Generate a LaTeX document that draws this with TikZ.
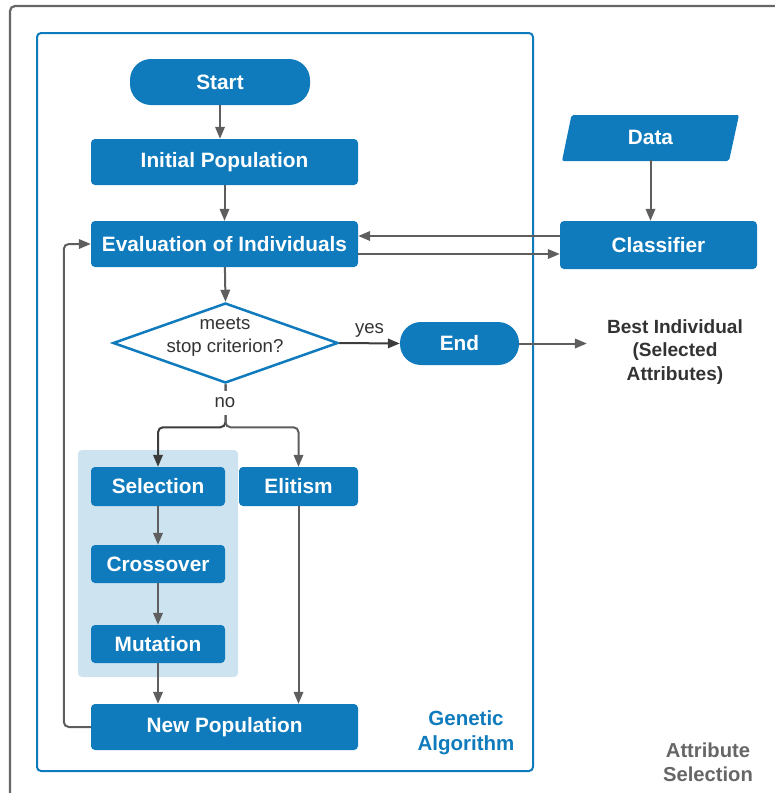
\documentclass[tikz,border=0pt]{standalone}
\usepackage{fontspec}
\setmainfont{Liberation Sans}
\usetikzlibrary{arrows.meta,shapes.geometric}
\definecolor{gablue}{RGB}{16,123,188}
\definecolor{lightregion}{RGB}{205,227,239}
\definecolor{outergray}{RGB}{102,102,102}
\definecolor{arrowgray}{RGB}{94,94,94}
\definecolor{darkline}{RGB}{60,60,60}
\definecolor{darktext}{RGB}{51,51,51}
\begin{document}
\begin{tikzpicture}[x=1pt,y=-1pt,
  box/.style={fill=gablue, text=white, rounded corners=4pt, inner sep=0pt,
    font=\fontsize{20.8}{24}\selectfont\bfseries},
  term/.style={box, rounded corners=21pt},
  flow/.style={draw=arrowgray, line width=2pt, -{Triangle[length=12pt,width=9.5pt]}},
  plain/.style={text=darktext, font=\fontsize{18.6}{23.5}\selectfont, inner sep=0pt},
]
\useasboundingbox (0,0) rectangle (775,793);
% outer frame and genetic algorithm frame
\draw[outergray, line width=2.2pt, rounded corners=5pt] (10,6) rectangle (810,830);
\draw[gablue, line width=2pt, rounded corners=4pt] (37,33) rectangle (533,771);
% shaded reproduction region
\fill[lightregion, rounded corners=4pt] (78,450) rectangle (238,677);

% main flow nodes
\node[term, minimum width=180pt, minimum height=46pt] (start) at (220,82) {Start};
\node[box, minimum width=267pt, minimum height=46pt] (init) at (224.5,162) {Initial Population};
\node[box, minimum width=267pt, minimum height=46pt] (eval) at (224.5,244) {Evaluation of Individuals};
\node[diamond, draw=gablue, line width=2.5pt, fill=white, minimum width=225pt,
      minimum height=80pt, inner sep=0pt] (dec) at (225.5,343) {};
\node[plain, align=center] (dectext) at (225,337) {meets\\stop criterion?};
\node[term, minimum width=119pt, minimum height=43pt] (end) at (459.5,343.5) {End};
\node[text=darktext, font=\fontsize{19.1}{23.5}\selectfont\bfseries, align=center,
      inner ysep=0pt, inner xsep=20pt] (best) at (675,352) {Best Individual\\(Selected\\Attributes)};

% data source and classifier
\fill[gablue, rounded corners=2pt] (571.5,115) -- (739,115) -- (729,161) -- (562,161) -- cycle;
\node[minimum width=170pt, minimum height=46pt, inner sep=0pt, text=white,
      font=\fontsize{20.8}{24}\selectfont\bfseries] (data) at (650.5,137) {Data};
\node[box, minimum width=197pt, minimum height=48pt] (clf) at (658.5,245) {Classifier};

% operators
\node[box, minimum width=134pt, minimum height=39pt] (sel) at (158,486.5) {Selection};
\node[box, minimum width=119pt, minimum height=39pt] (eli) at (298.5,486.5) {Elitism};
\node[box, minimum width=134pt, minimum height=38pt] (cross) at (158,564) {Crossover};
\node[box, minimum width=134pt, minimum height=38pt] (mut) at (158,644) {Mutation};
\node[box, minimum width=267pt, minimum height=46pt] (newpop) at (224.5,727) {New Population};

% frame titles
\node[text=gablue, font=\fontsize{20.5}{25}\selectfont\bfseries, align=center] (ga) at (466,733) {Genetic\\Algorithm};
\node[text=outergray, font=\fontsize{20.2}{24}\selectfont\bfseries, align=center] (as) at (708,762) {Attribute\\Selection};

% connectors
\draw[flow] (start.south) -- (start.south |- init.north);
\draw[flow] (init) -- (eval);
\draw[flow] (eval) -- (dec.north);
\draw[flow, draw=darkline] (dec.east) -- (end.west)
  node[plain, midway, anchor=base, yshift=10pt] (yes) {yes};
\draw[flow] (end.east) -- (end.east -| best.west);
\draw[flow] (data.south) -- (data.south |- clf.north);
\draw[flow] ([yshift=9pt]clf.west) -- ([yshift=9pt]clf.west -| eval.east);
\draw[flow] ([yshift=-10pt]eval.east) -- ([yshift=-10pt]eval.east -| clf.west);
\draw[flow, draw=darkline, rounded corners=5pt] (dec.south) -- ++(0,43) -| (sel.north);
\draw[flow, rounded corners=5pt] (dec.south) -- ++(0,43) -| (eli.north);
\node[plain, fill=white, inner xsep=3pt, inner ysep=7pt] (no) at (225,403) {no};
\draw[flow] (sel) -- (cross);
\draw[flow] (cross) -- (mut);
\draw[flow] (mut.south) -- (mut.south |- newpop.north);
\draw[flow] (eli.south) -- (eli.south |- newpop.north);
\draw[flow, rounded corners=5pt] (newpop.west) -- ++(-27,0) |- (eval.west);
\end{tikzpicture}
\end{document}
